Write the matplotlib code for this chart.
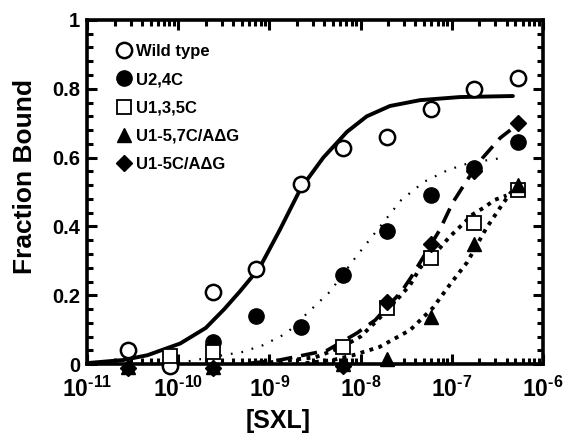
import numpy as np
import matplotlib
matplotlib.use('Agg')
import matplotlib.pyplot as plt
from matplotlib.ticker import FuncFormatter, LogLocator, MultipleLocator

plt.rcParams['font.family'] = ['Liberation Sans', 'DejaVu Sans']
plt.rcParams['font.weight'] = 'bold'
plt.rcParams['mathtext.fontset'] = 'custom'
plt.rcParams['mathtext.rm'] = 'Liberation Sans:bold'
plt.rcParams['mathtext.bf'] = 'Liberation Sans:bold'
plt.rcParams['mathtext.default'] = 'bf'

# measured points: [SXL] (M) and fraction bound
conc = [2.8e-11, 8.1e-11, 2.4e-10, 7.2e-10, 2.24e-9, 6.5e-9, 1.95e-8, 5.9e-8, 1.74e-7, 5.4e-7]

wt_x = conc
wt_y = [0.04, -0.005, 0.21, 0.276, 0.523, 0.628, 0.66, 0.74, 0.80, 0.83]

u24_x = conc[2:]
u24_y = [0.064, 0.14, 0.107, 0.26, 0.387, 0.49, 0.57, 0.645]

u135_x = [conc[1], conc[2], conc[5], conc[6], conc[7], conc[8], conc[9]]
u135_y = [0.023, 0.035, 0.05, 0.163, 0.308, 0.41, 0.506]

u157_x = [conc[0], conc[2], conc[5], conc[6], conc[7], conc[8], conc[9]]
u157_y = [-0.008, -0.008, 0.0, 0.015, 0.137, 0.35, 0.52]

u15_x = [conc[0], conc[2], conc[5], conc[6], conc[7], conc[8], conc[9]]
u15_y = [-0.01, -0.01, -0.005, 0.18, 0.35, 0.56, 0.70]

# fitted curves
wt_fit_x = [1e-11, 2.5e-11, 4.6e-11, 1.05e-10, 2.0e-10, 3.2e-10, 4.7e-10, 7.8e-10, 1.3e-9,
            2.2e-9, 3.9e-9, 7.1e-9, 1.17e-8, 2.1e-8, 4.5e-8, 1.23e-7, 4.7e-7]
wt_fit_y = [0.003, 0.012, 0.026, 0.06, 0.105, 0.16, 0.21, 0.28, 0.39,
            0.51, 0.60, 0.675, 0.72, 0.75, 0.767, 0.776, 0.779]

u24_fit_x = [1e-10, 3.1e-10, 5e-10, 8.5e-10, 1.55e-9, 2.6e-9, 4.6e-9, 8.7e-9, 1.38e-8,
             2.8e-8, 5e-8, 9.1e-8, 1.58e-7, 3.8e-7]
u24_fit_y = [0.003, 0.026, 0.035, 0.055, 0.09, 0.148, 0.21, 0.308, 0.375,
             0.477, 0.53, 0.564, 0.585, 0.60]

u15_fit_x = [6.3e-10, 1.3e-9, 4.3e-9, 9.1e-9, 1.45e-8, 1.95e-8, 2.8e-8, 3.6e-8, 7.4e-8,
             1.02e-7, 1.48e-7, 2.2e-7, 3.4e-7, 4.4e-7]
u15_fit_y = [0.003, 0.012, 0.04, 0.09, 0.128, 0.166, 0.21, 0.253, 0.39,
             0.468, 0.535, 0.60, 0.657, 0.68]

u135_fit_x = [1e-9, 3.2e-9, 6.3e-9, 1e-8, 1.95e-8, 3.5e-8, 4.5e-8, 7.4e-8, 9.5e-8,
              1.29e-7, 1.7e-7, 2.3e-7, 2.95e-7, 4e-7]
u135_fit_y = [0.005, 0.02, 0.05, 0.08, 0.155, 0.23, 0.28, 0.337, 0.37,
              0.404, 0.435, 0.456, 0.477, 0.49]

u157_fit_x = [2.5e-9, 5e-9, 8.3e-9, 1.62e-8, 3.5e-8, 6.2e-8, 9.5e-8, 1.48e-7, 2.4e-7, 3.55e-7, 4.5e-7]
u157_fit_y = [0.003, 0.012, 0.026, 0.05, 0.099, 0.163, 0.23, 0.296, 0.395, 0.462, 0.50]

fig = plt.figure(figsize=(5.66, 4.34), dpi=100)
ax = fig.add_axes([0.154, 0.161, 0.805, 0.793])

ax.plot(wt_fit_x, wt_fit_y, color='black', lw=2.8, solid_capstyle='round')
ax.plot(u24_fit_x, u24_fit_y, color='black', lw=1.6, linestyle=(0, (0.8, 4)))
ax.plot(u15_fit_x, u15_fit_y, color='black', lw=2.6, linestyle=(0, (4.5, 2.5)))
ax.plot(u135_fit_x, u135_fit_y, color='black', lw=2.8, linestyle=(0, (1, 1.4)))
ax.plot(u157_fit_x, u157_fit_y, color='black', lw=2.8, linestyle=(0, (1, 1.4)))

ax.plot(wt_x, wt_y, 'o', ms=11, mfc='white', mec='black', mew=1.8,
        label='Wild type', clip_on=False, zorder=5)
ax.plot(u24_x, u24_y, 'o', ms=11, mfc='black', mec='black',
        label='U2,4C', clip_on=False, zorder=5)
ax.plot(u135_x, u135_y, 's', ms=10, mfc='white', mec='black', mew=1.3,
        label='U1,3,5C', clip_on=False, zorder=5)
ax.plot(u157_x, u157_y, '^', ms=10, mfc='black', mec='black',
        label='U1-5,7C/A\u0394G', clip_on=False, zorder=5)
ax.plot(u15_x, u15_y, 'D', ms=8, mfc='black', mec='black',
        label='U1-5C/A\u0394G', clip_on=False, zorder=5)

ax.set_xscale('log')
ax.set_xlim(1e-11, 1e-6)
ax.set_ylim(0, 1)

ax.xaxis.set_major_locator(LogLocator(base=10, numticks=10))
ax.xaxis.set_minor_locator(LogLocator(base=10, subs=np.arange(2, 10), numticks=10))
ax.xaxis.set_major_formatter(FuncFormatter(lambda v, p: r'$10^{\text{-%d}}$' % round(-np.log10(v))))
ax.yaxis.set_major_locator(MultipleLocator(0.2))
ax.yaxis.set_minor_locator(MultipleLocator(0.04))
ax.yaxis.set_major_formatter(FuncFormatter(lambda v, p: '%g' % round(v, 1)))

ax.tick_params(which='both', direction='in', top=True, right=True, width=2.2)
ax.tick_params(which='major', length=7)
ax.tick_params(which='minor', length=4)
ax.tick_params(axis='x', labelsize=16.5, pad=9)
ax.tick_params(axis='y', labelsize=14.5, pad=5)
for s in ax.spines.values():
    s.set_linewidth(2.6)

ax.set_xlabel('[SXL]', fontsize=18, fontweight='bold')
ax.set_ylabel('Fraction Bound', fontsize=19, fontweight='bold')
ax.xaxis.set_label_coords(0.419, -0.13)
ax.yaxis.set_label_coords(-0.11, 0.544)

ax.legend(loc='upper left', bbox_to_anchor=(0.045, 0.95), frameon=False,
          prop={'weight': 'bold', 'size': 12}, handletextpad=0.2,
          labelspacing=0.8, handlelength=1.1, borderaxespad=0)

fig.savefig('out.png', dpi=100)
